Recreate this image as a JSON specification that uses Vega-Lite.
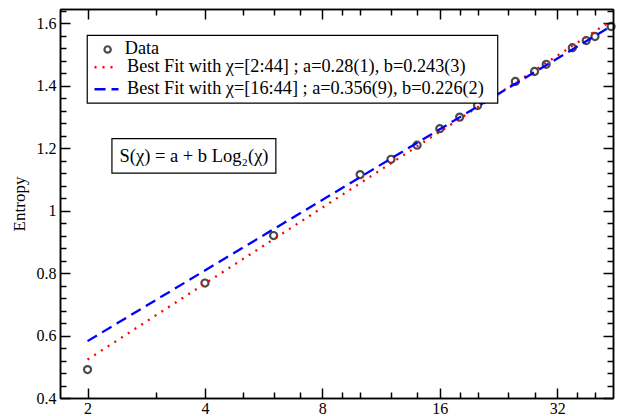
{
  "$schema": "https://vega.github.io/schema/vega-lite/v6.json",
  "width": 553,
  "height": 389,
  "autosize": "none",
  "padding": {"left": 60, "top": 9, "right": 5, "bottom": 18},
  "background": "white",
  "config": {
    "view": {"stroke": null},
    "font": "Liberation Serif",
    "axis": {
      "labelFont": "Liberation Serif", "labelFontSize": 16, "labelColor": "black",
      "domainColor": "black", "tickColor": "black", "domainWidth": 1.5, "tickWidth": 1.5,
      "grid": false, "titleFont": "Liberation Serif", "titleFontSize": 17,
      "titleFontWeight": "normal", "titleColor": "black"
    },
    "legend": {
      "orient": "none", "padding": 0,
      "labelFont": "Liberation Serif", "labelFontSize": 18.25, "labelColor": "black",
      "rowPadding": -3.5, "labelLimit": 600, "symbolOffset": 0, "title": null
    }
  },
  "datasets": {
    "points": [
      {"series": "Data", "chi": 2, "S": 0.491},
      {"series": "Data", "chi": 4, "S": 0.768},
      {"series": "Data", "chi": 6, "S": 0.920},
      {"series": "Data", "chi": 10, "S": 1.115},
      {"series": "Data", "chi": 12, "S": 1.164},
      {"series": "Data", "chi": 14, "S": 1.209},
      {"series": "Data", "chi": 16, "S": 1.262},
      {"series": "Data", "chi": 18, "S": 1.299},
      {"series": "Data", "chi": 20, "S": 1.336},
      {"series": "Data", "chi": 25, "S": 1.413},
      {"series": "Data", "chi": 28, "S": 1.445},
      {"series": "Data", "chi": 30, "S": 1.468},
      {"series": "Data", "chi": 35, "S": 1.521},
      {"series": "Data", "chi": 38, "S": 1.544},
      {"series": "Data", "chi": 40, "S": 1.557},
      {"series": "Data", "chi": 44, "S": 1.589}
    ],
    "fits": [
      {"series": "Best Fit with χ=[2:44] ; a=0.28(1), b=0.243(3)", "chi": 2, "S": 0.523},
      {"series": "Best Fit with χ=[2:44] ; a=0.28(1), b=0.243(3)", "chi": 44, "S": 1.607},
      {"series": "Best Fit with χ=[16:44] ; a=0.356(9), b=0.226(2)", "chi": 2, "S": 0.582},
      {"series": "Best Fit with χ=[16:44] ; a=0.356(9), b=0.226(2)", "chi": 44, "S": 1.590}
    ],
    "formula": [
      {"label": "S(χ) = a + b Log₂(χ)"}
    ]
  },
  "layer": [
    {
      "data": {"name": "points"},
      "mark": {"type": "point", "filled": false, "size": 50, "strokeWidth": 2.2, "color": "black"},
      "encoding": {
        "x": {"field": "chi", "type": "quantitative",
          "scale": {"type": "log", "base": 2, "domain": [1.7, 44.5], "nice": false},
          "axis": {"orient": "bottom", "values": [2, 4, 8, 16, 32], "tickSize": -10, "labelPadding": 12.5, "format": "d", "title": null}},
        "y": {"field": "S", "type": "quantitative",
          "scale": {"domain": [0.4, 1.645], "nice": false, "zero": false},
          "axis": {"orient": "left", "values": [0.4, 0.6, 0.8, 1, 1.2, 1.4, 1.6], "tickSize": -10, "labelPadding": 14, "format": "~g", "title": "Entropy", "titlePadding": 8}},
        "shape": {"field": "series", "type": "nominal",
          "scale": {"domain": ["Data"], "range": ["circle"]},
          "legend": {"legendX": 38.5, "legendY": 31.3, "symbolSize": 40, "symbolStrokeWidth": 2.2, "labelOffset": 8, "symbolStrokeColor": "black"}}
      }
    },
    {
      "data": {"name": "fits"},
      "mark": {"type": "line", "strokeWidth": 2.3},
      "encoding": {
        "x": {"field": "chi", "type": "quantitative",
          "axis": {"orient": "top", "values": [2, 4, 8, 16, 32], "tickSize": -10, "labels": false, "title": null}},
        "y": {"field": "S", "type": "quantitative",
          "axis": {"orient": "right", "values": [0.4, 0.6, 0.8, 1, 1.2, 1.4, 1.6], "tickSize": -10, "labels": false, "title": null}},
        "color": {"field": "series", "type": "nominal",
          "scale": {"domain": ["Best Fit with χ=[2:44] ; a=0.28(1), b=0.243(3)", "Best Fit with χ=[16:44] ; a=0.356(9), b=0.226(2)"],
                    "range": ["#ff0000", "#0000ff"]},
          "legend": {"legendX": 33, "legendY": 44.7, "symbolSize": 576, "symbolStrokeWidth": 2.5, "labelOffset": 7, "symbolType": "stroke"}},
        "strokeDash": {"field": "series", "type": "nominal",
          "scale": {"domain": ["Best Fit with χ=[2:44] ; a=0.28(1), b=0.243(3)", "Best Fit with χ=[16:44] ; a=0.356(9), b=0.226(2)"],
                    "range": [[2, 6], [11, 6]]},
          "legend": {"legendX": 33, "legendY": 44.7, "symbolSize": 576, "symbolStrokeWidth": 2.5, "labelOffset": 7, "symbolType": "stroke"}}
      }
    },
    {
      "data": {"name": "formula"},
      "mark": {"type": "rect", "fill": "white", "stroke": "black", "strokeWidth": 1.2},
      "encoding": {
        "x": {"datum": 1.9965, "type": "quantitative",
          "axis": {"orient": "bottom", "values": [3, 5, 6, 7, 9, 10, 12, 14, 18, 20, 24, 28, 36, 40], "tickSize": -6, "labels": false, "title": null}},
        "x2": {"datum": 22.53},
        "y": {"datum": 1.5607, "type": "quantitative",
          "axis": {"orient": "left", "values": [0.44, 0.48, 0.52, 0.56, 0.64, 0.68, 0.72, 0.76, 0.84, 0.88, 0.92, 0.96, 1.04, 1.08, 1.12, 1.16, 1.24, 1.28, 1.32, 1.36, 1.44, 1.48, 1.52, 1.56, 1.64], "tickSize": -6, "labels": false, "title": null}},
        "y2": {"datum": 1.3440}
      }
    },
    {
      "data": {"name": "formula"},
      "mark": {"type": "rect", "fill": "white", "stroke": "black", "strokeWidth": 1.2},
      "encoding": {
        "x": {"datum": 2.31, "type": "quantitative",
          "axis": {"orient": "top", "values": [3, 5, 6, 7, 9, 10, 12, 14, 18, 20, 24, 28, 36, 40], "tickSize": -6, "labels": false, "title": null}},
        "x2": {"datum": 6.08},
        "y": {"datum": 1.230, "type": "quantitative",
          "axis": {"orient": "right", "values": [0.44, 0.48, 0.52, 0.56, 0.64, 0.68, 0.72, 0.76, 0.84, 0.88, 0.92, 0.96, 1.04, 1.08, 1.12, 1.16, 1.24, 1.28, 1.32, 1.36, 1.44, 1.48, 1.52, 1.56, 1.64], "tickSize": -6, "labels": false, "title": null}},
        "y2": {"datum": 1.120}
      }
    },
    {
      "data": {"name": "formula"},
      "mark": {"type": "text", "font": "Liberation Serif", "fontSize": 18.5, "color": "black", "align": "center", "baseline": "middle"},
      "encoding": {
        "x": {"datum": 3.75, "type": "quantitative", "axis": null},
        "y": {"datum": 1.175, "type": "quantitative", "axis": null},
        "text": {"field": "label"}
      }
    }
  ],
  "resolve": {"axis": {"x": "independent", "y": "independent"}}
}
